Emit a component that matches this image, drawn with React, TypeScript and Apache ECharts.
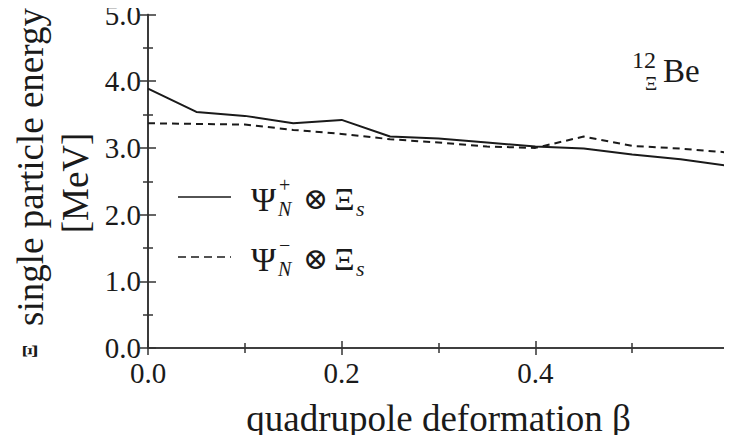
import React, { useEffect, useRef } from 'react';
import * as echarts from 'echarts';

// quadrupole deformation beta values
const beta = [0, 0.05, 0.1, 0.15, 0.2, 0.25, 0.3, 0.35, 0.4, 0.45, 0.5, 0.55, 0.6];
// Psi_N^+ (x) Xi_s  (solid)
const positiveParity = [3.89, 3.54, 3.48, 3.37, 3.42, 3.17, 3.14, 3.08, 3.02, 2.99, 2.9, 2.83, 2.73];
// Psi_N^- (x) Xi_s  (dashed)
const negativeParity = [3.37, 3.36, 3.35, 3.27, 3.21, 3.13, 3.08, 3.02, 3.0, 3.17, 3.03, 2.99, 2.93];

const xTitle = 'quadrupole deformation β';
const yTitle = 'single particle energy';
const yUnit = '[MeV]';

const FONT = 'Liberation Serif';
const INK = '#1a1a1a';

export default function App() {
  const ref = useRef<HTMLDivElement>(null);
  useEffect(() => {
    if (!ref.current) return;
    const chart = echarts.init(ref.current, undefined, { renderer: 'svg' });
    const axisLine = { show: true, lineStyle: { color: '#333', width: 1.6 } };
    const tick = (len: number) => ({ show: true, inside: true, length: len, lineStyle: { color: '#333', width: 1.5 } });
    const minor = { show: true, splitNumber: 2, length: 5, lineStyle: { color: '#333', width: 1.5 } };
    const legendRow = (y: number, sign: string, dashed: boolean) => [
      {
        type: 'line',
        shape: { x1: 178, y1: y, x2: 231, y2: y },
        style: { stroke: INK, lineWidth: 1.6, lineDash: dashed ? [8, 5] : undefined },
      },
      { type: 'text', x: 251, y: y + 2, style: { text: 'Ψ', fontFamily: FONT, fontSize: 34, fill: INK, textVerticalAlign: 'middle' } },
      { type: 'text', x: 279, y: y - 12, style: { text: sign, fontFamily: FONT, fontSize: 20, fill: INK, textVerticalAlign: 'middle' } },
      { type: 'text', x: 278, y: y + 12, style: { text: 'N', fontFamily: FONT, fontStyle: 'italic', fontSize: 20, fill: INK, textVerticalAlign: 'middle' } },
      { type: 'text', x: 303, y: y + 1, style: { text: '⊗', fontFamily: 'DejaVu Serif', fontSize: 30, fill: INK, textVerticalAlign: 'middle' } },
      { type: 'text', x: 334, y: y + 2, style: { text: 'Ξ', fontFamily: FONT, fontSize: 32, fill: INK, textVerticalAlign: 'middle' } },
      { type: 'text', x: 356, y: y + 11, style: { text: 's', fontFamily: FONT, fontStyle: 'italic', fontSize: 22, fill: INK, textVerticalAlign: 'middle' } },
    ];
    chart.setOption({
      animation: false,
      textStyle: { fontFamily: FONT, color: INK },
      grid: { left: 148, top: 9, right: -6, bottom: 95, containLabel: false },
      xAxis: [
        {
          type: 'value', min: 0, max: 0.6, interval: 0.2, position: 'bottom',
          axisLine, axisTick: tick(7), minorTick: minor,
          splitLine: { show: false },
          axisLabel: {
            fontSize: 29, color: INK, fontFamily: FONT, margin: 10,
            formatter: (v: number) => (v > 0.55 ? '' : v.toFixed(1)),
          },
          name: xTitle, nameLocation: 'middle', nameGap: 52,
          nameTextStyle: { fontSize: 37, color: INK, fontFamily: FONT },
        },
        {
          type: 'value', min: 0, max: 0.6, interval: 0.2, position: 'top',
          axisLine, axisTick: tick(7), minorTick: minor,
          splitLine: { show: false },
          axisLabel: { show: false },
        },
      ],
      yAxis: [
        {
          type: 'value', min: 0, max: 5, interval: 1, position: 'left',
          axisLine, axisTick: tick(8), minorTick: minor,
          splitLine: { show: false },
          axisLabel: { fontSize: 29, color: INK, fontFamily: FONT, margin: 7, formatter: (v: number) => v.toFixed(1) },
        },
        {
          type: 'value', min: 0, max: 5, interval: 1, position: 'right',
          axisLine, axisTick: tick(8), minorTick: minor,
          splitLine: { show: false },
          axisLabel: { show: false },
        },
      ],
      series: [
        {
          name: 'Ψ_N^+ ⊗ Ξ_s', type: 'line', showSymbol: false, xAxisIndex: 0, yAxisIndex: 0,
          data: beta.map((b, i) => [b, positiveParity[i]]),
          lineStyle: { color: INK, width: 2 },
        },
        {
          name: 'Ψ_N^- ⊗ Ξ_s', type: 'line', showSymbol: false, xAxisIndex: 0, yAxisIndex: 0,
          data: beta.map((b, i) => [b, negativeParity[i]]),
          lineStyle: { color: INK, width: 2, type: [7, 5] },
        },
      ],
      graphic: [
        // y-axis title (two lines, rotated)
        {
          type: 'text', x: 30, y: 183, rotation: Math.PI / 2,
          style: {
            text: '{xi|Ξ}  ' + yTitle,
            rich: { xi: { fontFamily: FONT, fontWeight: 'bold', fontSize: 20, fill: INK } },
            fontFamily: FONT, fontSize: 37, fill: INK, textAlign: 'center', textVerticalAlign: 'middle',
          },
        },
        {
          type: 'text', x: 75, y: 183, rotation: Math.PI / 2,
          style: { text: yUnit, fontFamily: FONT, fontSize: 37, fill: INK, textAlign: 'center', textVerticalAlign: 'middle' },
        },
        // nucleus label
        { type: 'text', x: 632, y: 60, style: { text: '12', fontFamily: FONT, fontSize: 24, fill: INK, textVerticalAlign: 'middle' } },
        { type: 'text', x: 645, y: 83, style: { text: 'Ξ', fontFamily: FONT, fontSize: 19, fill: INK, textVerticalAlign: 'middle' } },
        { type: 'text', x: 663, y: 71, style: { text: 'Be', fontFamily: FONT, fontSize: 33, fill: INK, textVerticalAlign: 'middle' } },
        // legend
        ...legendRow(197, '+', false),
        ...legendRow(257, '−', true),
      ],
    });
    return () => chart.dispose();
  }, []);
  return <div ref={ref} style={{ width: 732, height: 443, margin: -8 }} />;
}
